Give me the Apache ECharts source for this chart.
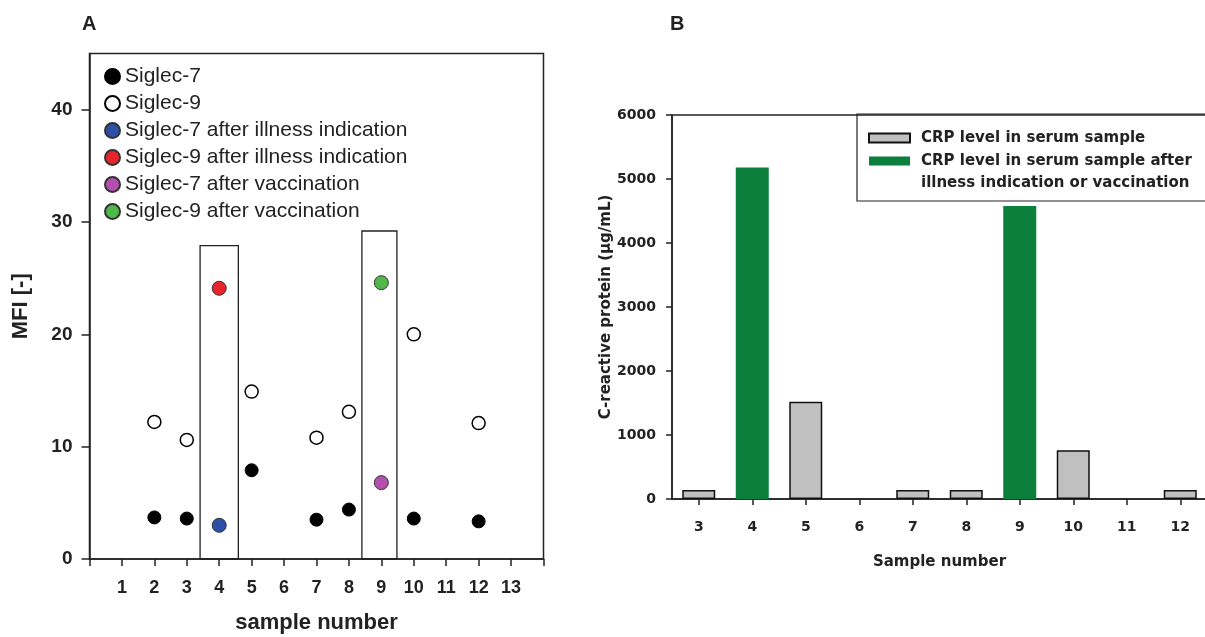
<!DOCTYPE html>
<html>
<head>
<meta charset="utf-8">
<script src="https://cdn.jsdelivr.net/npm/echarts@6/dist/echarts.min.js"></script>
<style>
  html, body { margin: 0; padding: 0; background: #ffffff; }
  #chart { width: 1205px; height: 637px; }
</style>
</head>
<body>
<div id="chart"></div>
<script>
// ---- Panel A: MFI per sample ----
const samplesA = [2, 3, 5, 7, 8, 10, 12];
const siglec7 = [3.7, 3.6, 7.9, 3.5, 4.4, 3.6, 3.35];
const siglec9 = [12.2, 10.6, 14.9, 10.8, 13.1, 20.0, 12.1];

const illnessSample = 4;
const siglec7Illness = 3.0;
const siglec9Illness = 24.1;

const vaccinationSample = 9;
const siglec7Vaccination = 6.8;
const siglec9Vaccination = 24.6;

// framed samples: [x from, x to, top MFI]
const frameBoxes = [[3.41, 4.59, 27.9], [8.40, 9.48, 29.2]];

const xTicksA = [1, 2, 3, 4, 5, 6, 7, 8, 9, 10, 11, 12, 13];
const yTicksA = [0, 10, 20, 30, 40];

// ---- Panel B: CRP per sample ----
const samplesB = ['3', '4', '5', '6', '7', '8', '9', '10', '11', '12'];
const crpSerum = [140, null, 1520, null, 140, 140, null, 760, null, 140];
const crpAfter = [null, 5180, null, null, null, null, 4580, null, null, null];

const NAME_SERUM = 'CRP level in serum sample';
const NAME_AFTER = 'CRP level in serum sample after illness indication or vaccination';
const AFTER_LINES = ['CRP level in serum sample after', 'illness indication or vaccination'];

const FONT_A = '"Liberation Sans", Arial, sans-serif';
const FONT_B = '"DejaVu Sans", Verdana, sans-serif';
const INK = '#222222';

const pairs = (xs, ys) => xs.map((x, i) => [x, ys[i]]);

const chart = echarts.init(document.getElementById('chart'), null, { renderer: 'canvas' });

const dotStyle = (fill, border, bw) => ({ color: fill, borderColor: border, borderWidth: bw, opacity: 1 });

const option = {
  animation: false,
  backgroundColor: '#ffffff',
  title: [
    { text: 'A', left: 77, top: 9, textStyle: { fontFamily: FONT_A, fontSize: 20, fontWeight: 'bold', color: INK } },
    { text: 'B', left: 665, top: 9, textStyle: { fontFamily: FONT_A, fontSize: 20, fontWeight: 'bold', color: INK } }
  ],
  grid: [
    { left: 89.5, top: 53.5, width: 454, height: 505.5, outerBoundsMode: 'none', show: true, borderColor: INK, borderWidth: 1.5, backgroundColor: 'transparent' },
    { left: 672, top: 115, width: 535, height: 384, outerBoundsMode: 'none', show: true, borderColor: INK, borderWidth: 1.5, backgroundColor: 'transparent' }
  ],
  legend: [
    {
      orient: 'vertical',
      left: 104,
      top: 66,
      icon: 'circle',
      itemWidth: 15,
      itemHeight: 15,
      itemGap: 6,
      padding: 0,
      selectedMode: false,
      textStyle: { fontFamily: FONT_A, fontSize: 21, lineHeight: 21, color: INK },
      data: ['Siglec-7', 'Siglec-9', 'Siglec-7 after illness indication', 'Siglec-9 after illness indication',
             'Siglec-7 after vaccination', 'Siglec-9 after vaccination']
    },
    {
      orient: 'vertical',
      left: 857,
      top: 114,
      icon: 'rect',
      itemWidth: 41,
      itemHeight: 9,
      itemGap: -21,
      padding: [13, 40, 7, 11],
      borderColor: INK,
      borderWidth: 1.2,
      selectedMode: false,
      // the two-line entry keeps its first line level with the swatch
      formatter: name => name === NAME_AFTER ? '\n' + AFTER_LINES.join('\n') : name,
      textStyle: { fontFamily: FONT_B, fontSize: 15, fontWeight: 'bold', lineHeight: 22, color: INK, padding: [0, 0, 0, 6] },
      data: [NAME_SERUM, NAME_AFTER]
    }
  ],
  xAxis: [
    {
      gridIndex: 0,
      type: 'value',
      min: 0,
      max: 14,
      interval: 1,
      name: 'sample number',
      nameLocation: 'middle',
      nameGap: 53,
      nameTextStyle: { fontFamily: FONT_A, fontSize: 22, fontWeight: 'bold', color: INK },
      axisLine: { show: true, lineStyle: { color: INK, width: 1.5 } },
      axisTick: { show: true, length: 7, lineStyle: { color: INK, width: 1.5 } },
      axisLabel: { customValues: xTicksA, margin: 20, fontFamily: FONT_A, fontSize: 18, fontWeight: 'bold', color: INK },
      splitLine: { show: false }
    },
    {
      gridIndex: 1,
      type: 'category',
      data: samplesB,
      boundaryGap: true,
      name: 'Sample number',
      nameLocation: 'middle',
      nameGap: 56,
      nameTextStyle: { fontFamily: FONT_B, fontSize: 15, fontWeight: 'bold', color: INK },
      axisLine: { show: true, lineStyle: { color: INK, width: 1.5 } },
      axisTick: { show: true, alignWithLabel: true, length: 6, lineStyle: { color: INK, width: 1.5 } },
      axisLabel: { margin: 21, fontFamily: FONT_B, fontSize: 14, fontWeight: 'bold', color: INK },
      splitLine: { show: false }
    }
  ],
  yAxis: [
    {
      gridIndex: 0,
      type: 'value',
      min: 0,
      max: 45,
      interval: 10,
      name: 'MFI [-]',
      nameLocation: 'middle',
      nameGap: 58,
      nameTextStyle: { fontFamily: FONT_A, fontSize: 22, fontWeight: 'bold', color: INK },
      axisLine: { show: true, lineStyle: { color: INK, width: 1.5 } },
      axisTick: { show: true, customValues: yTicksA, length: 8, lineStyle: { color: INK, width: 1.5 } },
      axisLabel: { customValues: yTicksA, margin: 17, fontFamily: FONT_A, fontSize: 19, fontWeight: 'bold', color: INK },
      splitLine: { show: false }
    },
    {
      gridIndex: 1,
      type: 'value',
      min: 0,
      max: 6000,
      interval: 1000,
      name: 'C-reactive protein (µg/mL)',
      nameLocation: 'middle',
      nameGap: 53,
      nameTextStyle: { fontFamily: FONT_B, fontSize: 15, fontWeight: 'bold', color: INK },
      axisLine: { show: true, lineStyle: { color: INK, width: 1.5 } },
      axisTick: { show: true, length: 6, lineStyle: { color: INK, width: 1.5 } },
      axisLabel: { margin: 16, formatter: v => String(v), fontFamily: FONT_B, fontSize: 14, fontWeight: 'bold', color: INK },
      splitLine: { show: false }
    }
  ],
  series: [
    {
      name: 'Siglec-7',
      type: 'scatter',
      xAxisIndex: 0, yAxisIndex: 0,
      symbolSize: 13,
      itemStyle: dotStyle('#000000', '#000000', 1),
      data: pairs(samplesA, siglec7),
      markArea: {
        silent: true,
        itemStyle: { color: 'rgba(0,0,0,0)', borderColor: INK, borderWidth: 1.3 },
        data: frameBoxes.map(b => [{ coord: [b[0], 0] }, { coord: [b[1], b[2]] }])
      }
    },
    {
      name: 'Siglec-9',
      type: 'scatter',
      xAxisIndex: 0, yAxisIndex: 0,
      symbolSize: 13,
      itemStyle: dotStyle('#ffffff', '#000000', 1.5),
      data: pairs(samplesA, siglec9)
    },
    {
      name: 'Siglec-7 after illness indication',
      type: 'scatter',
      xAxisIndex: 0, yAxisIndex: 0,
      symbolSize: 14,
      itemStyle: dotStyle('#2e4fa6', '#333333', 1),
      data: [[illnessSample, siglec7Illness]]
    },
    {
      name: 'Siglec-9 after illness indication',
      type: 'scatter',
      xAxisIndex: 0, yAxisIndex: 0,
      symbolSize: 14,
      itemStyle: dotStyle('#e8242a', '#333333', 1),
      data: [[illnessSample, siglec9Illness]]
    },
    {
      name: 'Siglec-7 after vaccination',
      type: 'scatter',
      xAxisIndex: 0, yAxisIndex: 0,
      symbolSize: 14,
      itemStyle: dotStyle('#b54fad', '#333333', 1),
      data: [[vaccinationSample, siglec7Vaccination]]
    },
    {
      name: 'Siglec-9 after vaccination',
      type: 'scatter',
      xAxisIndex: 0, yAxisIndex: 0,
      symbolSize: 14,
      itemStyle: dotStyle('#4fb848', '#333333', 1),
      data: [[vaccinationSample, siglec9Vaccination]]
    },
    {
      name: NAME_SERUM,
      type: 'bar',
      xAxisIndex: 1, yAxisIndex: 1,
      barWidth: 33,
      barGap: '-100%',
      itemStyle: { color: '#c0c0c0', borderColor: '#111111', borderWidth: 1.5 },
      data: crpSerum
    },
    {
      name: NAME_AFTER,
      type: 'bar',
      xAxisIndex: 1, yAxisIndex: 1,
      barWidth: 33,
      barGap: '-100%',
      itemStyle: { color: '#0c7f3d' },
      data: crpAfter
    }
  ]
};

chart.setOption(option);
</script>
</body>
</html>
